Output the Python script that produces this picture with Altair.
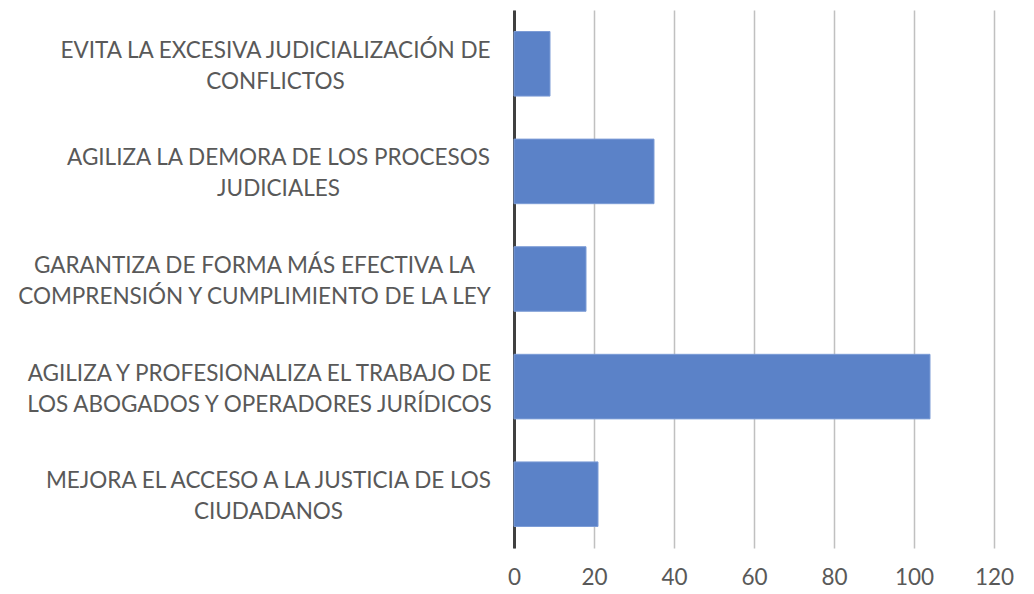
import altair as alt
import pandas as pd

categories = [
    "EVITA LA EXCESIVA JUDICIALIZACIÓN DE|CONFLICTOS",
    "AGILIZA LA DEMORA DE LOS PROCESOS|JUDICIALES",
    "GARANTIZA DE FORMA MÁS EFECTIVA LA|COMPRENSIÓN Y CUMPLIMIENTO DE LA LEY",
    "AGILIZA Y PROFESIONALIZA EL TRABAJO DE|LOS ABOGADOS Y OPERADORES JURÍDICOS",
    "MEJORA EL ACCESO A LA JUSTICIA DE LOS|CIUDADANOS",
]
values = [9, 35, 18, 104, 21]
x_ticks = [0, 20, 40, 60, 80, 100, 120]

df = pd.DataFrame({"cat": categories, "val": values})

FONT = "Lato"

# layout: each label block is right-aligned near the axis, its lines centred
label_pad = {categories[0]: 239, categories[1]: 236, categories[2]: 260,
             categories[3]: 255, categories[4]: 246}
pad_cond = {
    "condition": [{"test": f"datum.value == '{k}'", "value": v} for k, v in label_pad.items()],
    "value": 240,
}

chart = alt.Chart(df).mark_bar(color="#5B82C8", stroke="#7C9CD6", strokeWidth=1).encode(
    x=alt.X("val:Q", scale=alt.Scale(domain=[0, 120], nice=False),
            axis=alt.Axis(values=x_ticks, title=None, domain=False, ticks=False, tickSize=0,
                          grid=True, gridColor="#C0C0C0", gridWidth=1.5,
                          labelFont=FONT, labelFontSize=22.5, labelColor="#595959",
                          labelFlush=False, labelPadding=18)),
    y=alt.Y("cat:N", sort=categories, scale=alt.Scale(paddingInner=0.4, paddingOuter=0.2),
            axis=alt.Axis(title=None, ticks=False, tickSize=0, domain=True,
                          domainColor="#404040", domainWidth=3, grid=False,
                          labelFont=FONT, labelFontSize=22.5, labelColor="#595959",
                          labelAlign="center", labelBaseline="middle",
                          labelPadding=pad_cond, labelLineHeight=31, labelLimit=600,
                          labelOffset=-13,
                          labelExpr="split(datum.label, '|')")),
).properties(
    width=480, height=538,
    autosize=alt.AutoSizeParams(type="none"),
    padding={"left": 506, "top": 2, "right": 20, "bottom": 40},
).configure_view(stroke=None)

chart.save("out.html", embed_options={"renderer": "svg", "actions": False})
